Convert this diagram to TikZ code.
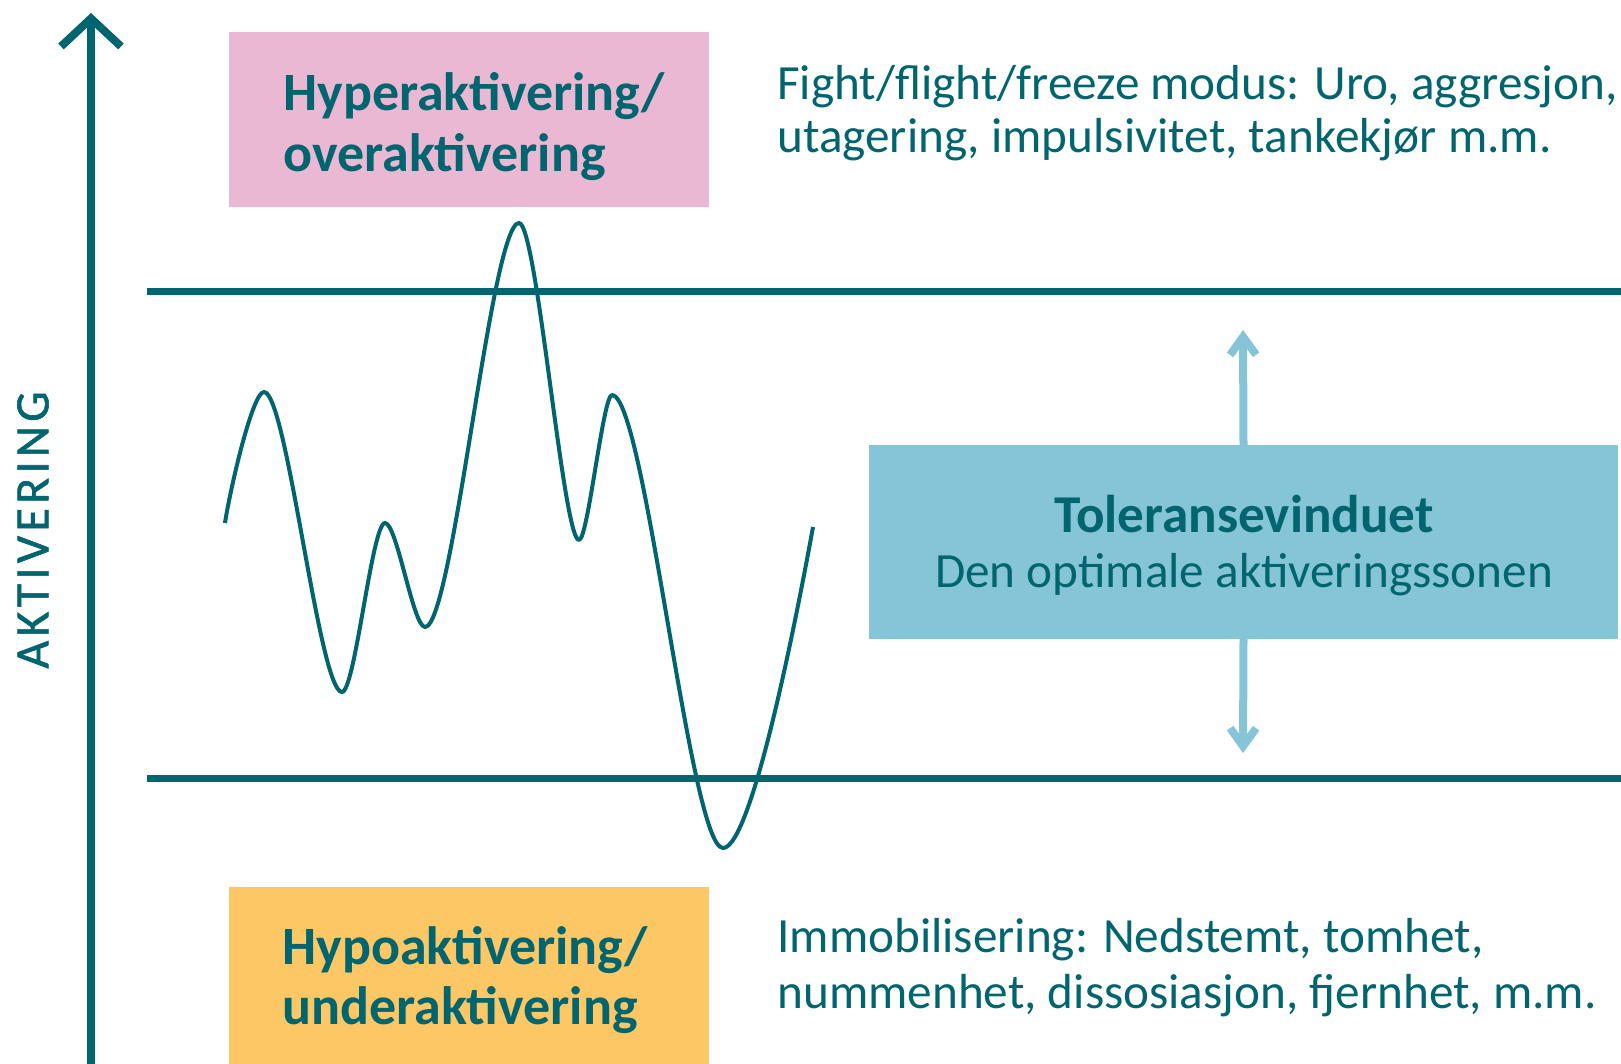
\documentclass[tikz,border=0pt]{standalone}
\usepackage{fontspec}
\setmainfont{Carlito}
\newfontfamily\axisfont[LetterSpace=9,FakeBold=1.2]{Carlito}
\usetikzlibrary{arrows.meta}

\definecolor{petrol}{RGB}{0,101,110}
\definecolor{hyperpink}{RGB}{235,184,212}
\definecolor{hypoyellow}{RGB}{253,199,101}
\definecolor{windowblue}{RGB}{133,197,215}

\tikzset{
  box/.style={inner sep=0pt, outer sep=0pt, anchor=north west},
  boxtext/.style={anchor=base west, inner sep=0pt, text=petrol, font=\fontsize{27pt}{30pt}\selectfont\bfseries},
  sidetext/.style={anchor=base west, inner sep=0pt, text=petrol, font=\fontsize{24.6pt}{28pt}\selectfont},
  limit/.style={petrol, line width=3.5pt},
  wave/.style={petrol, line width=2pt, line join=round},
  widen/.style={windowblue, line width=4pt, -{Straight Barb[length=9pt,width=13pt]}}
}

\begin{document}
\begin{tikzpicture}[x=0.5pt, y=-0.5pt]
  \useasboundingbox (0,0) rectangle (1621,1064);

  % akse
  \coordinate (A0) at (91,1064);
  \coordinate (A1) at (91,13);
  \draw[petrol, line width=4pt, -{Straight Barb[length=14pt,width=30pt]}] (A0) -- (A1);
  \node[rotate=90, text=petrol, inner sep=0pt, font=\axisfont\fontsize{24pt}{24pt}\selectfont] (akt) at (33,530) {AKTIVERING};

  % grenser for toleransevinduet
  \coordinate (U0) at (147,291);
  \coordinate (U1) at (1621,291);
  \coordinate (L0) at (147,778);
  \coordinate (L1) at (1621,778);
  \draw[limit] (U0) -- (U1);
  \draw[limit] (L0) -- (L1);

  % aktiveringskurve
  \draw[wave] (225,523) .. controls (229,495) and (252,392) .. (264,392)
    .. controls (287,392) and (319,692) .. (342,692)
    .. controls (355,692) and (372,523) .. (385,523)
    .. controls (397,523) and (413,627) .. (425,627)
    .. controls (453,627) and (491,223) .. (519,223)
    .. controls (537,223) and (563,540) .. (579,540)
    .. controls (588,540) and (603,395) .. (612,395)
    .. controls (645,395) and (690,848) .. (723,848)
    .. controls (753,848) and (801,593) .. (813,527);

  % bokser
  \node[box, fill=hyperpink, minimum width=240pt, minimum height=87.5pt] (hyper) at (229,32) {};
  \node[boxtext] (hyper1) at (283,111) {Hyperaktivering/};
  \node[boxtext] (hyper2) at (283,172) {overaktivering};

  \node[box, fill=hypoyellow, minimum width=240pt, minimum height=88.5pt] (hypo) at (229,887) {};
  \node[boxtext] (hypo1) at (282,964) {Hypoaktivering/};
  \node[boxtext] (hypo2) at (282,1024) {underaktivering};

  % toleransevinduet
  \coordinate (up) at (1243,330);
  \coordinate (down) at (1243,753);
  \node[box, fill=windowblue, minimum width=374.5pt, minimum height=97pt] (tol) at (869,445) {};
  \draw[widen] (tol.north) -- (up);
  \draw[widen] (tol.south) -- (down);
  \node[anchor=base, inner sep=0pt, text=petrol, font=\fontsize{26.6pt}{30pt}\selectfont\bfseries] (tol1) at (1244,532) {Toleransevinduet};
  \node[anchor=base, inner sep=0pt, text=petrol, font=\fontsize{24.6pt}{28pt}\selectfont] (tol2) at (1244,587) {Den optimale aktiveringssonen};

  % beskrivelser
  \node[sidetext] (fight1) at (777,100) {Fight/flight/freeze modus: Uro, aggresjon,};
  \node[sidetext] (fight2) at (777,153) {utagering, impulsivitet, tankekjør m.m.};
  \node[sidetext] (immo1) at (777,952) {Immobilisering: Nedstemt, tomhet,};
  \node[sidetext] (immo2) at (777,1008) {nummenhet, dissosiasjon, fjernhet, m.m.};
\end{tikzpicture}
\end{document}
